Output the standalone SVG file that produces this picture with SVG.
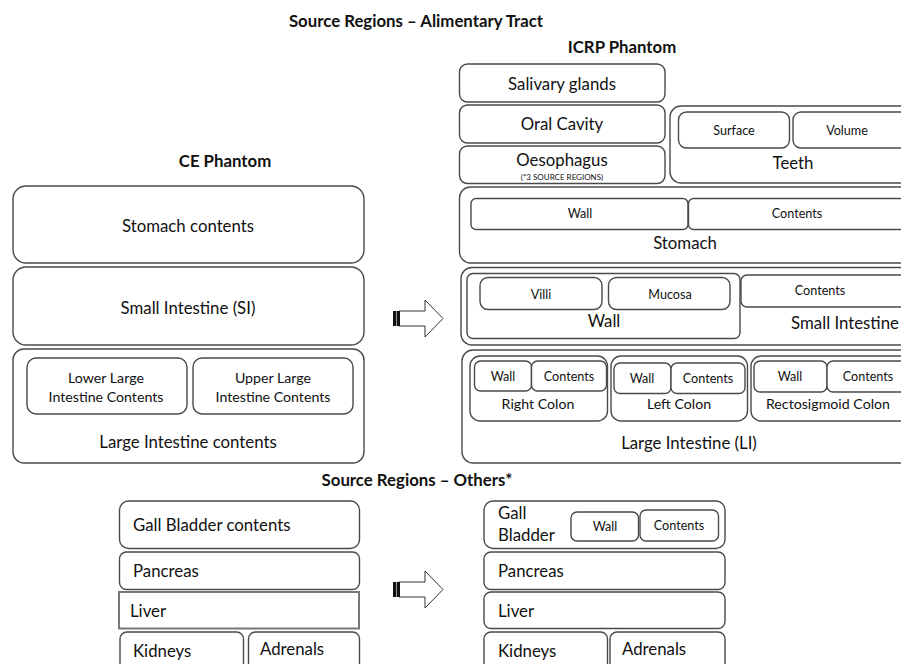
<svg xmlns="http://www.w3.org/2000/svg" width="901" height="664" viewBox="0 0 901 664">
<defs>
<style>
rect{fill:#fff;stroke:#4a4a4a;stroke-width:1.4}
text{font-family:Lato,"Liberation Sans",sans-serif;fill:#111}
.t{font-weight:bold;font-size:16.8px;text-anchor:middle}
.c{text-anchor:middle}
.l16{font-size:16.8px}
.l14{font-size:14.2px}
.l13{font-size:12.6px}
.l12{font-size:12.6px}
.tiny{font-size:8px}
.arrow{fill:#fff;stroke:#333;stroke-width:1}
</style>
<g id="arrowShape">
<polygon class="arrow" points="399,311 425,311 425,300 443,318.5 425,337 425,326 399,326"/>
<rect x="393" y="311" width="7" height="15" style="fill:#111;stroke:none"/>
<line x1="396.5" y1="311" x2="396.5" y2="326" style="stroke:#999;stroke-width:1"/>
</g>
</defs>

<g id="titles">
<text class="t" x="416" y="27">Source Regions – Alimentary Tract</text>
<text class="t" x="622" y="53">ICRP Phantom</text>
<text class="t" x="225" y="167">CE Phantom</text>
<text class="t" x="417" y="486">Source Regions – Others*</text>
</g>

<!-- CE phantom -->
<g id="ce-stomach">
<rect x="13" y="186" width="351" height="77" rx="13"/>
<text class="c l16" x="188" y="231.5">Stomach contents</text>
</g>
<g id="ce-si">
<rect x="13" y="267" width="351" height="78" rx="13"/>
<text class="c l16" x="188" y="314">Small Intestine (SI)</text>
</g>
<g id="ce-li">
<rect x="13" y="349" width="351" height="114" rx="11"/>
<text class="c l16" x="188" y="448">Large Intestine contents</text>
</g>
<g id="ce-lli">
<rect x="27" y="358" width="160" height="56" rx="9"/>
<text class="c l14" x="106" y="383">Lower Large</text>
<text class="c l14" x="106" y="402">Intestine Contents</text>
</g>
<g id="ce-uli">
<rect x="193" y="358" width="160" height="56" rx="9"/>
<text class="c l14" x="273" y="383">Upper Large</text>
<text class="c l14" x="273" y="402">Intestine Contents</text>
</g>

<!-- ICRP phantom alimentary -->
<g id="icrp-salivary">
<rect x="459.5" y="64" width="205.5" height="38" rx="8"/>
<text class="c l16" x="562" y="90">Salivary glands</text>
</g>
<g id="icrp-oral">
<rect x="459.5" y="105" width="205.5" height="38" rx="8"/>
<text class="c l16" x="562" y="130">Oral Cavity</text>
</g>
<g id="icrp-oesophagus">
<rect x="459.5" y="146" width="205.5" height="37.5" rx="8"/>
<text class="c l16" x="562" y="166">Oesophagus</text>
<text class="c tiny" x="562" y="179.5">(*3 SOURCE REGIONS)</text>
</g>
<g id="icrp-teeth">
<rect x="670" y="106" width="245" height="77" rx="11"/>
<text class="c l16" x="793" y="169">Teeth</text>
</g>
<g id="icrp-teeth-surface">
<rect x="678.5" y="112" width="111" height="36" rx="8"/>
<text class="c l12" x="734" y="135">Surface</text>
</g>
<g id="icrp-teeth-volume">
<rect x="793" y="112" width="120" height="36" rx="8"/>
<text class="c l12" x="847" y="135">Volume</text>
</g>

<g id="icrp-stomach">
<rect x="459.5" y="187" width="455" height="76" rx="11"/>
<text class="c l16" x="685" y="249">Stomach</text>
</g>
<g id="icrp-stomach-wall">
<rect x="471" y="198.5" width="217" height="31" rx="5"/>
<text class="c l12" x="580" y="218">Wall</text>
</g>
<g id="icrp-stomach-contents">
<rect x="688.5" y="198.5" width="225" height="31" rx="5"/>
<text class="c l12" x="797" y="218">Contents</text>
</g>

<g id="icrp-si">
<rect x="461" y="267.5" width="455" height="77.5" rx="11"/>
<text class="c l16" x="845" y="329">Small Intestine</text>
</g>
<g id="icrp-si-wall">
<rect x="467" y="273.5" width="273" height="65" rx="6"/>
<text class="c l16" x="604" y="327">Wall</text>
</g>
<g id="icrp-si-villi">
<rect x="480" y="277.5" width="122" height="32" rx="8"/>
<text class="c l12" x="541" y="299">Villi</text>
</g>
<g id="icrp-si-mucosa">
<rect x="608.5" y="277.5" width="121.5" height="32" rx="8"/>
<text class="c l12" x="670" y="299">Mucosa</text>
</g>
<g id="icrp-si-contents">
<rect x="741" y="275" width="175" height="32" rx="6"/>
<text class="c l12" x="820" y="295">Contents</text>
</g>

<g id="icrp-li">
<rect x="462" y="350" width="455" height="113" rx="11"/>
<text class="c l16" x="689" y="449">Large Intestine (LI)</text>
</g>
<g id="icrp-right-colon">
<rect x="470" y="356" width="137.5" height="65" rx="10"/>
<text class="c l14" x="538" y="409">Right Colon</text>
</g>
<g id="icrp-rc-wall">
<rect x="474.5" y="361" width="57" height="30" rx="6"/>
<text class="c l13" x="503" y="381">Wall</text>
</g>
<g id="icrp-rc-contents">
<rect x="531.5" y="361" width="75" height="30" rx="6"/>
<text class="c l13" x="569" y="381">Contents</text>
</g>
<g id="icrp-left-colon">
<rect x="611" y="356" width="136.5" height="65" rx="10"/>
<text class="c l14" x="679" y="409">Left Colon</text>
</g>
<g id="icrp-lc-wall">
<rect x="614" y="363" width="57" height="30.5" rx="6"/>
<text class="c l13" x="642" y="383">Wall</text>
</g>
<g id="icrp-lc-contents">
<rect x="671" y="363" width="74" height="30.5" rx="6"/>
<text class="c l13" x="708" y="383">Contents</text>
</g>
<g id="icrp-rs-colon">
<rect x="751" y="356" width="165" height="65" rx="10"/>
<text class="c l14" x="828" y="409">Rectosigmoid Colon</text>
</g>
<g id="icrp-rs-wall">
<rect x="754" y="361" width="73" height="31" rx="6"/>
<text class="c l13" x="790" y="381">Wall</text>
</g>
<g id="icrp-rs-contents">
<rect x="827" y="361" width="85" height="31" rx="6"/>
<text class="c l13" x="868" y="381">Contents</text>
</g>

<!-- Others CE -->
<g id="ce-gall">
<rect x="119.5" y="501" width="240" height="47.5" rx="9"/>
<text class="l16" x="133" y="531">Gall Bladder contents</text>
</g>
<g id="ce-pancreas">
<rect x="119.5" y="552" width="240" height="37.5" rx="7"/>
<text class="l16" x="133" y="577">Pancreas</text>
</g>
<g id="ce-liver">
<rect x="119" y="592" width="240" height="36.5" style="stroke:#777;stroke-width:2"/>
<text class="l16" x="130" y="617">Liver</text>
</g>
<g id="ce-kidneys">
<rect x="120" y="632" width="123.5" height="45" rx="7"/>
<text class="l16" x="133" y="657">Kidneys</text>
</g>
<g id="ce-adrenals">
<rect x="248.5" y="632" width="111" height="45" rx="7"/>
<text class="l16" x="260" y="655">Adrenals</text>
</g>

<!-- Others ICRP -->
<g id="icrp-gall">
<rect x="484" y="501" width="241" height="47.5" rx="9"/>
<text class="l16" x="498" y="519">Gall</text>
<text class="l16" x="498" y="541">Bladder</text>
</g>
<g id="icrp-gall-wall">
<rect x="571" y="512" width="67.5" height="29" rx="6"/>
<text class="c l12" x="605" y="531">Wall</text>
</g>
<g id="icrp-gall-contents">
<rect x="640" y="510" width="78.5" height="31" rx="6"/>
<text class="c l12" x="679" y="530">Contents</text>
</g>
<g id="icrp-pancreas">
<rect x="484" y="552" width="241" height="37.5" rx="7"/>
<text class="l16" x="498" y="577">Pancreas</text>
</g>
<g id="icrp-liver">
<rect x="484" y="592" width="241" height="36.5" rx="7"/>
<text class="l16" x="498" y="617">Liver</text>
</g>
<g id="icrp-kidneys">
<rect x="484" y="632" width="123.5" height="45" rx="7"/>
<text class="l16" x="498" y="657">Kidneys</text>
</g>
<g id="icrp-adrenals">
<rect x="610" y="632" width="115" height="45" rx="7"/>
<text class="l16" x="622" y="655">Adrenals</text>
</g>

<g id="connectors">
<use href="#arrowShape"/>
<use href="#arrowShape" transform="translate(0,271)"/>
</g>
</svg>
